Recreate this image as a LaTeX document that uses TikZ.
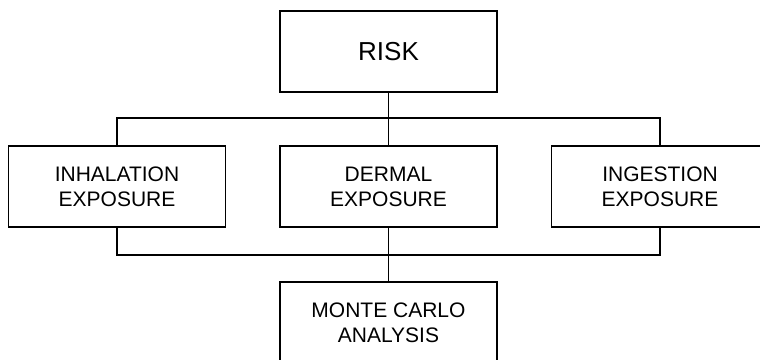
\documentclass[tikz,border=0pt]{standalone}
\usepackage{fontspec}
\setmainfont{Liberation Sans}
\begin{document}
\begin{tikzpicture}[x=1pt,y=-1pt,
  box/.style={draw, line width=1.6pt, minimum width=217pt, minimum height=81pt,
    inner sep=0pt, align=center, font=\fontsize{21}{25}\selectfont},
  link/.style={line width=1.6pt}]
  \path[use as bounding box, clip] (0,0) rectangle (760,359);
  % top-level box
  \node[box, font=\fontsize{26}{30}\selectfont] (risk) at (388.5,51.5) {RISK};
  % exposure pathways
  \node[box] (inh) at (117,186.5) {INHALATION\\EXPOSURE};
  \node[box] (derm) at (388.5,186.5) {DERMAL\\EXPOSURE};
  \node[box] (ing) at (660,186.5) {INGESTION\\EXPOSURE};
  % analysis
  \node[box] (mc) at (388.5,322.5) {MONTE CARLO\\ANALYSIS};
  % upper bus
  \draw[link] (risk.south) -- (derm.north);
  \draw[link] (inh.north) -- ++(0,-27) -| (ing.north);
  % lower bus
  \draw[link] (inh.south) -- ++(0,27) -| (ing.south);
  \draw[link] (derm.south) -- (mc.north);
\end{tikzpicture}
\end{document}
